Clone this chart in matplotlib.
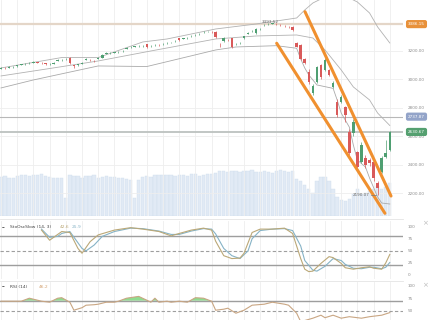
import numpy as np
import matplotlib.pyplot as plt
from matplotlib.transforms import blended_transform_factory

# candles (one per day)
opens = [3075, 3080, 3079, 3086, 3092, 3101, 3106, 3111, 3115, 3121,
         3117, 3111, 3105, 3110, 3128, 3135, 3139, 3150, 3097, 3099,
         3110, 3138, 3137, 3130, 3145, 3149, 3180, 3183, 3186, 3190,
         3196, 3215, 3224, 3228, 3231, 3232, 3247, 3230, 3238, 3240,
         3245, 3252, 3254, 3266, 3289, 3283, 3288, 3300, 3308, 3316,
         3329, 3331, 3333, 3331, 3250, 3268, 3276, 3289, 3245, 3252,
         3289, 3320, 3336, 3324, 3350, 3378, 3384, 3389, 3388, 3381,
         3375, 3368, 3366, 3256, 3240, 3142, 3053, 2904, 2983, 3100,
         3065, 3065, 2948, 2843, 2843, 2808, 2632, 2621, 2492, 2422,
         2446, 2434, 2422, 2275, 2352, 2457, 2504]
closes = [3080, 3077, 3086, 3089, 3100, 3106, 3110, 3114, 3121, 3117,
          3113, 3106, 3108, 3115, 3135, 3138, 3143, 3115, 3092, 3106,
          3117, 3142, 3134, 3127, 3150, 3170, 3185, 3186, 3188, 3192,
          3200, 3220, 3227, 3230, 3234, 3235, 3226, 3233, 3242, 3238,
          3248, 3255, 3256, 3270, 3275, 3286, 3291, 3304, 3311, 3319,
          3332, 3334, 3330, 3296, 3245, 3289, 3274, 3226, 3250, 3256,
          3300, 3325, 3340, 3352, 3354, 3382, 3388, 3392, 3385, 3378,
          3372, 3365, 3345, 3228, 3142, 3114, 2983, 2953, 3088, 3018,
          3135, 3030, 2976, 2749, 2878, 2749, 2481, 2702, 2387, 2539,
          2399, 2413, 2306, 2236, 2446, 2483, 2630.67]
highs = [3084, 3083, 3090, 3093, 3103, 3110, 3114, 3118, 3125, 3124,
         3120, 3114, 3112, 3119, 3139, 3142, 3147, 3153, 3100, 3110,
         3121, 3146, 3141, 3134, 3154, 3174, 3189, 3190, 3192, 3196,
         3204, 3224, 3231, 3234, 3238, 3239, 3250, 3237, 3246, 3244,
         3252, 3259, 3260, 3274, 3292, 3290, 3295, 3308, 3315, 3323,
         3336, 3338, 3337, 3335, 3254, 3293, 3280, 3292, 3254, 3260,
         3304, 3329, 3344, 3356, 3358, 3386, 3391, 3393.52, 3391, 3385,
         3379, 3372, 3370, 3260, 3248, 3150, 3070, 2965, 3095, 3110,
         3150, 3075, 2990, 2860, 2890, 2815, 2650, 2720, 2500, 2560,
         2470, 2450, 2440, 2290, 2460, 2575, 2640]
lows = [3071, 3073, 3076, 3082, 3089, 3098, 3103, 3108, 3112, 3113,
        3109, 3102, 3101, 3107, 3125, 3131, 3136, 3110, 3079, 3096,
        3107, 3134, 3130, 3123, 3141, 3146, 3177, 3180, 3183, 3187,
        3193, 3212, 3221, 3225, 3228, 3229, 3222, 3226, 3235, 3234,
        3242, 3249, 3251, 3263, 3271, 3280, 3285, 3297, 3305, 3313,
        3326, 3328, 3326, 3292, 3228, 3264, 3270, 3222, 3241, 3248,
        3285, 3317, 3332, 3320, 3346, 3374, 3380, 3385, 3381, 3374,
        3368, 3361, 3341, 3224, 3135, 3105, 2970, 2890, 2975, 3000,
        3060, 3020, 2940, 2735, 2835, 2700, 2470, 2600, 2370, 2410,
        2380, 2395, 2290, 2190.07, 2340, 2450, 2500]
volumes = [3.9, 4.0, 3.8, 3.8, 4.0, 4.1, 4.1, 4.0, 4.1, 4.1,
           4.2, 4.0, 3.9, 3.8, 3.8, 3.8, 1.8, 4.1, 4.0, 4.0,
           3.8, 4.0, 4.0, 4.1, 3.8, 3.9, 4.0, 3.9, 3.9, 3.8,
           3.8, 3.7, 3.6, 1.8, 3.6, 3.9, 4.0, 3.9, 4.1, 4.1,
           4.1, 4.1, 4.1, 4.0, 4.1, 4.1, 4.0, 4.2, 4.2, 4.0,
           4.1, 4.2, 4.2, 4.3, 4.5, 4.5, 4.4, 4.5, 4.5, 4.4,
           4.5, 4.5, 4.6, 4.4, 4.4, 4.5, 4.4, 4.3, 4.5, 4.6,
           4.5, 4.4, 4.5, 3.7, 3.5, 3.1, 2.7, 2.3, 3.5, 3.9,
           3.9, 3.5, 2.7, 1.9, 1.6, 1.5, 1.7, 2.2, 2.7, 2.2,
           2.3, 2.5, 2.7, 3.0, 2.7, 2.9, 3.3]

# bands
upper_idx = [0, 15, 24, 35, 41, 53, 63, 73, 75, 77, 80, 84, 86, 88, 91, 93, 96]
upper = [3079, 3152, 3152, 3261, 3282, 3352, 3387, 3429, 3485, 3534,
         3576, 3590, 3569, 3541, 3464, 3366, 3254]
mid_idx = [0, 12, 24, 37, 53, 63, 73, 77, 80, 84, 87, 91, 93, 96]
mid = [3023, 3075, 3128, 3198, 3282, 3303, 3310, 3289, 3205, 3065,
       2946, 2855, 2763, 2676]
lower_idx = [0, 8, 24, 36, 41, 53, 58, 68, 73, 74, 75, 76, 78, 80, 82,
             83, 84, 86, 87, 88, 90, 91, 93, 94, 96]
lower = [2939, 2995, 3093, 3089, 3123, 3205, 3226, 3235, 3217, 3142,
         3079, 3030, 2960, 2948, 2936, 2855, 2763, 2665, 2539, 2434,
         2385, 2308, 2175, 2133, 2126]

# drawn channel
chan_up_idx = [75.06, 96.3]
chan_up = [3473, 2182]
chan_lo_idx = [68.07, 94.8]
chan_lo = [3252, 2061]

level_top = 3386.15
level_mid = 2737.87
last_close = 2630.67
high_val = 3393.52
low_val = 2190.07
price_ticks = [2200, 2400, 2600, 2800, 3000, 3200]

# StoOscSlow (14, 3)
stoch_k_idx = [10, 12, 15, 17, 19, 20, 22, 24, 28, 32, 35, 39, 42, 44, 47,
               50, 52, 53, 55, 57, 59, 60, 62, 64, 67, 70, 72, 74, 75, 76,
               77, 79, 81, 82, 84, 85, 87, 89, 91, 92, 94, 95, 96]
stoch_k = [93, 72, 90, 88, 55, 45, 69, 83, 93, 98, 95, 90, 81, 86, 93,
           97, 93, 70, 40, 34, 35, 45, 88, 95, 95, 97, 86, 34, 12, 7,
           8, 24, 38, 36, 24, 15, 12, 15, 17, 14, 12, 25, 42.6]
stoch_d_idx = [10, 12, 14, 15, 17, 20, 21, 23, 25, 28, 32, 35, 39, 42, 44,
               47, 50, 52, 53, 55, 57, 59, 61, 62, 64, 67, 70, 72, 74, 75,
               77, 78, 80, 82, 84, 85, 87, 89, 91, 92, 94, 95, 96]
stoch_d = [95, 78, 80, 86, 90, 55, 50, 62, 80, 90, 97, 96, 91, 84, 84,
           91, 96, 95, 85, 55, 40, 34, 50, 75, 92, 95, 96, 92, 60, 30,
           10, 8, 18, 34, 30, 22, 14, 13, 16, 16, 13, 16, 25.9]

# RSI (14)
rsi_idx = [0, 5, 7, 10, 12, 14, 15, 17, 18, 20, 21, 23, 24, 26, 28, 29, 31,
           34, 36, 37, 38, 39, 41, 42, 44, 46, 48, 50, 52, 53, 55, 56, 58,
           60, 62, 65, 67, 70, 71, 73, 74, 77, 79, 80, 82, 84, 86, 89, 91,
           94, 96]
rsi = [69, 69, 75, 69, 67, 75, 76, 67, 51, 56, 61, 62, 63, 67, 67, 69, 75,
       78.6, 71, 67, 75, 67, 69, 67, 69, 67, 76, 75, 69, 51, 53, 55, 45,
       51, 61, 63, 67, 63, 61, 45, 28, 35, 41, 36, 41, 35, 38, 35, 38,
       41, 46.2]

GREEN = '#4f9f72'
RED = '#d95a5a'
K_COL = '#bba877'
D_COL = '#86b3c6'
LAB = '#8c8c8c'

W, H = 430, 320
fig = plt.figure(figsize=(W / 100, H / 100), dpi=100)


def px_box(x0, y0, x1, y1):
    return [x0 / W, 1 - y1 / H, (x1 - x0) / W, (y1 - y0) / H]


def px_text(x, y, s, **kw):
    fig.text(x / W, 1 - y / H, s, va='center', **kw)


ax = fig.add_axes(px_box(0, 0, 403, 216))
ax_vol = ax.twinx()
ax_st = fig.add_axes(px_box(0, 221, 403, 279))
ax_rsi = fig.add_axes(px_box(0, 282, 403, 320))

idx = np.arange(len(closes))
for a in (ax, ax_st, ax_rsi):
    a.set_xlim(-0.25, 99.26)
    for sp in a.spines.values():
        sp.set_visible(False)
    a.set_xticks(np.arange(0, 100, 4))
    a.tick_params(axis='x', length=0, labelbottom=False)
    a.grid(axis='x', color='#eeeeee', lw=0.6)
    a.yaxis.tick_right()
    a.tick_params(axis='y', length=0, pad=3.6, labelsize=3, labelcolor=LAB)
    a.set_axisbelow(True)

# volume underneath
for sp in ax_vol.spines.values():
    sp.set_visible(False)
ax_vol.set_ylim(0, 21.6)
ax_vol.set_yticks([])
ax_vol.bar(idx, volumes, width=0.82, color='#e1eaf5', edgecolor='#d0deed', lw=0.3)
ax.set_zorder(ax_vol.get_zorder() + 1)
ax.patch.set_visible(False)

# price panel
ax.set_ylim(2042, 3555)
ax.set_yticks(price_ticks)
ax.set_yticklabels([f'{v:.2f}' for v in price_ticks])
ax.grid(axis='y', color='#eeeeee', lw=0.6)

ax.axhline(level_top, color='#e4d6c8', lw=1.6, zorder=2)
ax.axhline(level_mid, color='#b8b8b8', lw=0.8, zorder=2)
ax.axhline(last_close, color='#bcc2bf', lw=1.3, zorder=2)

ax.plot(upper_idx, upper, color='#b2b2b2', lw=0.6, zorder=3)
ax.plot(mid_idx, mid, color='#b2b2b2', lw=0.6, zorder=3)
ax.plot(lower_idx, lower, color='#aaaaaa', lw=0.6, zorder=3)

o = np.array(opens)
c = np.array(closes)
colors = [GREEN if cc >= oo else RED for oo, cc in zip(o, c)]
ax.vlines(idx, lows, highs, colors=colors, lw=0.5, zorder=4)
ax.bar(idx, np.maximum(np.abs(c - o), 2.5), bottom=np.minimum(o, c),
       width=0.62, color=colors, zorder=5)

ax.plot(chan_up_idx, chan_up, color='#f0902f', lw=2.2, solid_capstyle='round', zorder=6)
ax.plot(chan_lo_idx, chan_lo, color='#f0902f', lw=2.2, solid_capstyle='round', zorder=6)

ax.text(66.4, high_val + 10, f'{high_val:.2f}', fontsize=3, color='#666666',
        ha='center', va='center', zorder=7)
ax.text(91.1, low_val, f'{low_val:.2f}', fontsize=3, color='#666666',
        ha='right', va='center', zorder=7)
ax.plot([91.3, 92.6], [low_val, low_val], color='#777777', lw=0.5, zorder=7)

trans = blended_transform_factory(ax.transAxes, ax.transData)
for val, col in [(level_top, '#e8913a'), (level_mid, '#93a4c9'), (last_close, '#55a070')]:
    ax.text(1.0335, val, f'{val:.2f}', transform=trans, ha='center', va='center',
            fontsize=3, color='white', clip_on=False, zorder=10,
            bbox=dict(boxstyle='round,pad=0.5', fc=col, ec='none'))

# stochastic panel
ax_st.set_ylim(-8.3, 111.8)
ax_st.set_yticks([0, 25, 50, 75, 100])
ax_st.axhline(80, color='#9e9e9e', lw=1.0)
ax_st.axhline(20, color='#9e9e9e', lw=1.0)
ax_st.axhline(50, color='#9e9e9e', lw=0.8, ls=(0, (3, 2)))
ax_st.plot(stoch_d_idx, stoch_d, color=D_COL, lw=0.8)
ax_st.plot(stoch_k_idx, stoch_k, color=K_COL, lw=0.8)

# RSI panel
ax_rsi.set_ylim(31.4, 107.4)
ax_rsi.set_yticks([50, 75, 100])
ax_rsi.axhline(70, color='#9e9e9e', lw=1.0)
ax_rsi.axhline(30, color='#9e9e9e', lw=1.0)
ax_rsi.axhline(50, color='#9e9e9e', lw=0.8, ls=(0, (3, 2)))
r = np.array(rsi)
ax_rsi.fill_between(rsi_idx, 70, r, where=r > 70, interpolate=True,
                    color='#8fdc8f', lw=0)
ax_rsi.plot(rsi_idx, rsi, color='#c9a683', lw=0.8)

# legends, separators, close marks
px_text(2, 227.5, '–', fontsize=4, color='#333333', fontweight='bold')
px_text(10, 227.5, 'StoOscSlow (14, 3)', fontsize=3.2, color='#444444')
px_text(60, 227.5, '42.6', fontsize=3.2, color=K_COL)
px_text(72, 227.5, '25.9', fontsize=3.2, color=D_COL)
px_text(2, 287, '–', fontsize=4, color='#333333', fontweight='bold')
px_text(10, 287, 'RSI (14)', fontsize=3.2, color='#444444')
px_text(39, 287, '46.2', fontsize=3.2, color='#d4a373')
px_text(425, 223, '×', fontsize=5, color='#bdbdbd', ha='center')
px_text(425, 285, '×', fontsize=5, color='#bdbdbd', ha='center')

for yy in (219, 280.5):
    fig.add_artist(plt.Line2D([0, 403 / W], [1 - yy / H] * 2, color='#e4e4e4', lw=0.6))

fig.savefig('out.png', dpi=100)
